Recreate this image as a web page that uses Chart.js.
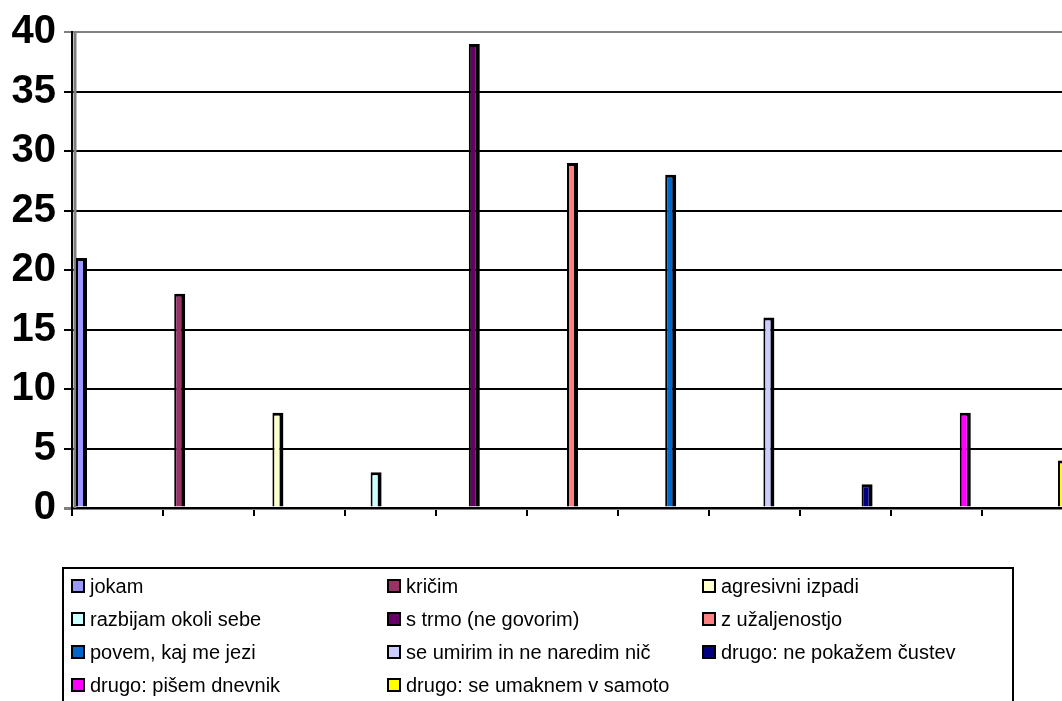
<!DOCTYPE html>
<html>
<head>
<meta charset="utf-8">
<script src="https://cdn.jsdelivr.net/npm/chart.js@4/dist/chart.umd.min.js"></script>
<style>
  html, body { margin: 0; padding: 0; background: #fff; overflow: hidden; }
  #wrap { width: 1100px; height: 701px; }
</style>
</head>
<body>
<div id="wrap"><canvas id="c" width="1100" height="701"></canvas></div>
<script>
// Responses (one bar per answer)
const categories = [
  'jokam',
  'kričim',
  'agresivni izpadi',
  'razbijam okoli sebe',
  's trmo (ne govorim)',
  'z užaljenostjo',
  'povem, kaj me jezi',
  'se umirim in ne naredim nič',
  'drugo: ne pokažem čustev',
  'drugo: pišem dnevnik',
  'drugo: se umaknem v samoto'
];
const values = [21, 18, 8, 3, 39, 29, 28, 16, 2, 8, 4];
const colors = [
  '#9999FF', '#993366', '#FFFFCC', '#CCFFFF', '#660066', '#FF8080',
  '#0066CC', '#CCCCFF', '#000080', '#FF00FF', '#FFFF00'
];
const yTicks = [0, 5, 10, 15, 20, 25, 30, 35, 40];

const FONT = "'Liberation Sans', Arial, sans-serif";

// Each answer is its own series, placed in its own category slot
const datasets = categories.map((name, i) => ({
  label: name,
  data: categories.map((_, j) => (j === i ? values[i] : null)),
  backgroundColor: colors[i],
  borderColor: '#000',
  borderWidth: { left: 2, right: 4, top: 3, bottom: 0 },
  borderSkipped: false
}));

// Grey side wall of the plot
const wallPlugin = {
  id: 'wall',
  beforeDatasetsDraw(chart) {
    const { ctx, chartArea: a } = chart;
    ctx.save();
    ctx.strokeStyle = '#808080';
    ctx.lineWidth = 3;
    ctx.beginPath();
    ctx.moveTo(a.left + 3, a.top);
    ctx.lineTo(a.left + 3, a.bottom);
    ctx.stroke();
    ctx.restore();
  }
};

// Boxed three-column legend
const boxLegend = {
  id: 'boxLegend',
  afterDraw(chart) {
    const { ctx } = chart;
    const left = 63, right = 1013, top = 568, bottom = 720;
    const colX = [72, 388, 703];
    const rowY = [586, 619, 652, 685];
    ctx.save();
    ctx.strokeStyle = '#000';
    ctx.lineWidth = 2;
    ctx.strokeRect(left, top, right - left, bottom - top);
    ctx.font = '20px ' + FONT;
    ctx.textBaseline = 'middle';
    chart.data.datasets.forEach((ds, i) => {
      const x = colX[i % 3];
      const y = rowY[Math.floor(i / 3)];
      ctx.fillStyle = ds.backgroundColor;
      ctx.fillRect(x, y - 6, 12, 12);
      ctx.lineWidth = 2;
      ctx.strokeStyle = '#000';
      ctx.strokeRect(x, y - 6, 12, 12);
      ctx.fillStyle = '#000';
      ctx.fillText(ds.label, x + 18, y + 1);
    });
    ctx.restore();
  }
};

new Chart(document.getElementById('c'), {
  type: 'bar',
  data: { labels: categories.map(() => ''), datasets },
  plugins: [wallPlugin, boxLegend],
  options: {
    responsive: false,
    animation: false,
    devicePixelRatio: 1,
    layout: { padding: { top: 30, right: 27, bottom: 0, left: 0 } },
    plugins: { legend: { display: false }, tooltip: { enabled: false } },
    datasets: { bar: { categoryPercentage: 0.87, barPercentage: 1.53 } },
    scales: {
      x: {
        offset: true,
        grid: {
          offset: true,
          drawOnChartArea: false,
          drawTicks: true,
          tickLength: 8,
          color: '#000',
          lineWidth: 2
        },
        border: { color: '#000', width: 2 },
        ticks: { display: false },
        afterFit(scale) { scale.height = 701 - 508; }
      },
      y: {
        min: 0,
        max: 40,
        afterBuildTicks(scale) { scale.ticks = yTicks.map(v => ({ value: v })); },
        grid: {
          tickLength: 8,
          color: ctx => (ctx.tick && (ctx.tick.value === 40 || ctx.tick.value === 0)) ? '#808080' : '#000',
          lineWidth: ctx => (ctx.tick && ctx.tick.value === 0) ? 3 : 2
        },
        border: { color: '#000', width: 2 },
        ticks: {
          color: '#000',
          padding: 8,
          font: { family: FONT, size: 40, weight: 'bold' }
        },
        afterFit(scale) { scale.width = 72; }
      }
    }
  }
});
</script>
</body>
</html>
